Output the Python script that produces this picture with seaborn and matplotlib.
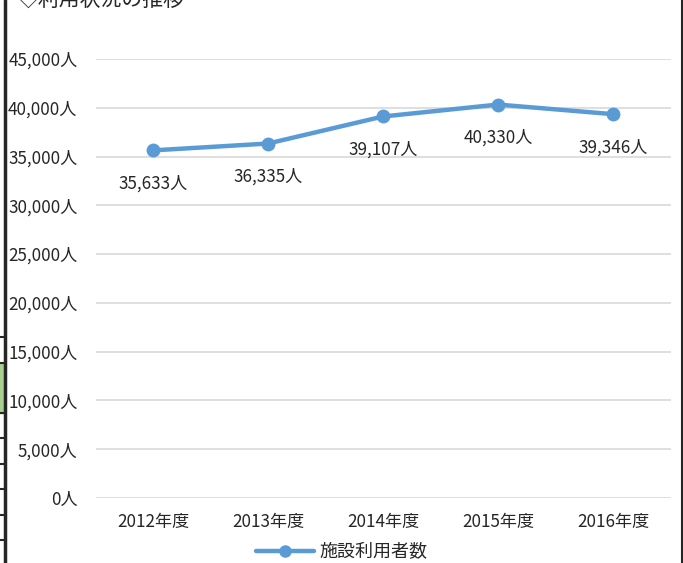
import matplotlib
matplotlib.use("Agg")
import matplotlib.pyplot as plt
import pandas as pd
import seaborn as sns
from matplotlib.lines import Line2D
from matplotlib.patches import Rectangle

sns.set_style("white")
plt.rcParams["font.family"] = ["Noto Sans CJK JP", "DejaVu Sans"]

# data
years = ["2012年度", "2013年度", "2014年度", "2015年度", "2016年度"]
users = [35633, 36335, 39107, 40330, 39346]
yticks = [0, 5000, 10000, 15000, 20000, 25000, 30000, 35000, 40000, 45000]
series_name = "施設利用者数"
title = "◇利用状況の推移"

df = pd.DataFrame({"year": years, "users": users})
blue = "#5B9BD5"
txt = "#262626"

fig = plt.figure(figsize=(6.83, 5.63), dpi=100)
ax = fig.add_axes([95.5 / 683, 1 - 498 / 563, 575 / 683, (498 - 59) / 563])

sns.lineplot(data=df, x="year", y="users", ax=ax, color=blue, linewidth=3.2,
             marker="o", markersize=10, markeredgewidth=0, sort=False)

ax.set_xlim(-0.5, len(years) - 0.5)
ax.set_ylim(0, 45000)
ax.set_yticks(yticks)
ax.set_yticklabels([f"{v:,}人" for v in yticks], fontsize=12.3, color=txt)
ax.set_xticks(range(len(years)))
ax.set_xticklabels(years, fontsize=12.3, color=txt)
ax.tick_params(axis="both", length=0)
ax.tick_params(axis="y", pad=13)
ax.tick_params(axis="x", pad=11)
ax.set_xlabel("")
ax.set_ylabel("")
ax.grid(axis="y", color="#D9D9D9", linewidth=1.2)
ax.set_axisbelow(True)
for s in ax.spines.values():
    s.set_visible(False)

for i, v in enumerate(users):
    ax.annotate(f"{v:,}人", (i, v), xytext=(0, -24), textcoords="offset points",
                ha="center", va="center", fontsize=12.3, color=txt)

handle = Line2D([], [], color=blue, linewidth=3.2, marker="o", markersize=9,
                markeredgewidth=0)
fig.legend([handle], [series_name], loc="center", bbox_to_anchor=(0.5, 1 - 552 / 563),
           frameon=False, fontsize=13, handlelength=3.2, handletextpad=0.3)

# clipped title and surrounding sheet lines from the source page
fig.text(18 / 683, 1.0, title, fontsize=15, color=txt, ha="left", va="center")
fig.add_artist(Rectangle((0, 1 - 413 / 563), 5 / 683, 50 / 563, color="#A9D08E",
                         transform=fig.transFigure))
for yy in [337, 363, 413, 438, 464, 489, 515, 540]:
    fig.add_artist(Line2D([0, 6 / 683], [1 - yy / 563] * 2, color=txt, linewidth=1.5))
fig.add_artist(Line2D([5 / 683, 5 / 683], [0, 1], color=txt, linewidth=2.5))
fig.add_artist(Line2D([682 / 683, 682 / 683], [0, 1], color=txt, linewidth=1.5))

fig.savefig("out.png", dpi=100)
